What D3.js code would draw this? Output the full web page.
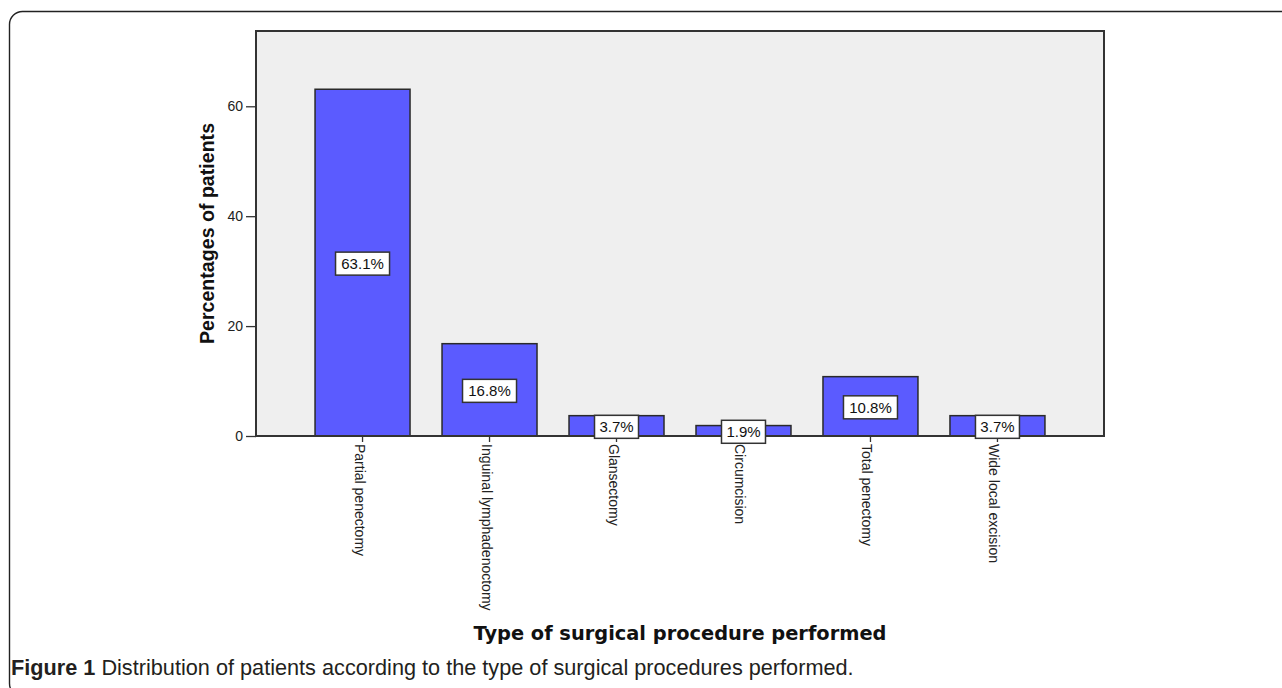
<!DOCTYPE html>
<html>
<head>
<meta charset="utf-8">
<script src="https://cdn.jsdelivr.net/npm/d3@7/dist/d3.min.js"></script>
<style>
  body { margin: 0; background: #fff; }
  svg { display: block; }
</style>
</head>
<body>
<div id="chart"></div>
<script>
const categories = ['Partial penectomy', 'Inguinal lymphadenoctomy', 'Glansectomy', 'Circumcision', 'Total penectomy', 'Wide local excision'];
const percentages = [63.1, 16.8, 3.7, 1.9, 10.8, 3.7];
const valueLabels = ['63.1%', '16.8%', '3.7%', '1.9%', '10.8%', '3.7%'];
const yTicks = [0, 20, 40, 60];

const W = 1282, H = 688;
const plot = { left: 256, top: 31, right: 1104, bottom: 436 };

const svg = d3.select('#chart').append('svg')
  .attr('width', W)
  .attr('height', H);

// outer frame (rounded, runs off right/bottom edge)
svg.append('rect')
  .attr('x', 9.5).attr('y', 11.5)
  .attr('width', 1320).attr('height', 685)
  .attr('rx', 13)
  .attr('fill', 'none')
  .attr('stroke', '#222')
  .attr('stroke-width', 1.4);

const x = d3.scaleBand()
  .domain(categories)
  .range([plot.left, plot.right])
  .paddingInner(0.252)
  .paddingOuter(0.465);

const y = d3.scaleLinear()
  .domain([0, 73.7])
  .range([plot.bottom, plot.top]);

// plot background
svg.append('rect')
  .attr('x', plot.left).attr('y', plot.top)
  .attr('width', plot.right - plot.left)
  .attr('height', plot.bottom - plot.top)
  .attr('fill', '#efefef');

// bars
svg.append('g').selectAll('rect')
  .data(percentages)
  .join('rect')
  .attr('x', (d, i) => x(categories[i]))
  .attr('y', d => y(d))
  .attr('width', x.bandwidth())
  .attr('height', d => y(0) - y(d))
  .attr('fill', '#5b5bff')
  .attr('stroke', '#2a2a2a')
  .attr('stroke-width', 1.5);

// plot border
svg.append('rect')
  .attr('x', plot.left).attr('y', plot.top)
  .attr('width', plot.right - plot.left)
  .attr('height', plot.bottom - plot.top)
  .attr('fill', 'none')
  .attr('stroke', '#333')
  .attr('stroke-width', 2);

// y axis
const yAxis = svg.append('g')
  .attr('transform', `translate(${plot.left},0)`)
  .call(d3.axisLeft(y).tickValues(yTicks).tickSize(10).tickPadding(3).tickFormat(d3.format('d')));
yAxis.select('.domain').remove();
yAxis.selectAll('line').attr('stroke', '#333').attr('stroke-width', 1.3);
yAxis.selectAll('text')
  .attr('font-family', 'Liberation Sans, Arial, sans-serif')
  .attr('font-size', 14)
  .attr('fill', '#222');

// x axis
const xAxis = svg.append('g')
  .attr('transform', `translate(0,${plot.bottom})`)
  .call(d3.axisBottom(x).tickSize(6).tickFormat(''));
xAxis.select('.domain').remove();
xAxis.selectAll('line').attr('stroke', '#333').attr('stroke-width', 1.3);

// rotated category labels
svg.append('g').selectAll('text')
  .data(categories)
  .join('text')
  .attr('transform', d => `translate(${x(d) + x.bandwidth() / 2 - 8},${plot.bottom + 8}) rotate(90)`)
  .attr('font-family', 'Liberation Sans, Arial, sans-serif')
  .attr('font-size', 14)
  .attr('fill', '#222')
  .text(d => d);

// value label boxes
const labels = svg.append('g').selectAll('g')
  .data(percentages)
  .join('g')
  .attr('transform', (d, i) => `translate(${x(categories[i]) + x.bandwidth() / 2},${y(d / 2) + 1})`);

labels.append('rect')
  .attr('x', d => d >= 10 ? -27 : -22)
  .attr('y', -11.5)
  .attr('width', d => d >= 10 ? 54 : 44)
  .attr('height', 23)
  .attr('fill', '#fff')
  .attr('stroke', '#333')
  .attr('stroke-width', 1.5);

labels.append('text')
  .attr('text-anchor', 'middle')
  .attr('dy', '0.36em')
  .attr('font-family', 'Liberation Sans, Arial, sans-serif')
  .attr('font-size', 15)
  .attr('fill', '#111')
  .text((d, i) => valueLabels[i]);

// axis titles
svg.append('text')
  .attr('transform', `translate(214,${(plot.top + plot.bottom) / 2}) rotate(-90)`)
  .attr('text-anchor', 'middle')
  .attr('font-family', 'Liberation Sans, Arial, sans-serif')
  .attr('font-weight', 'bold')
  .attr('font-size', 19.6)
  .attr('fill', '#111')
  .text('Percentages of patients');

svg.append('text')
  .attr('x', (plot.left + plot.right) / 2)
  .attr('y', 640)
  .attr('text-anchor', 'middle')
  .attr('font-family', 'DejaVu Sans, sans-serif')
  .attr('font-weight', 'bold')
  .attr('font-size', 19.4)
  .attr('fill', '#111')
  .text('Type of surgical procedure performed');

// caption
const caption = svg.append('text')
  .attr('x', 11)
  .attr('y', 675)
  .attr('font-family', 'Liberation Sans, Arial, sans-serif')
  .attr('font-size', 21.7)
  .attr('fill', '#231f20');
caption.append('tspan').attr('font-weight', 'bold').text('Figure 1');
caption.append('tspan').text(' Distribution of patients according to the type of surgical procedures performed.');
</script>
</body>
</html>
